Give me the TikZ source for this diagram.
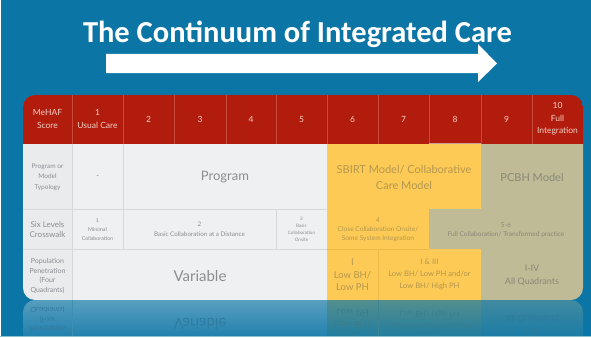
\documentclass[tikz,border=0pt]{standalone}
\usepackage{fontspec}
\setmainfont{Lato}
\newfontfamily\titlefont{Carlito}
\definecolor{bgblue}{HTML}{0B75A6}
\definecolor{hdrred}{HTML}{B21C0C}
\definecolor{hdrline}{HTML}{C9493A}
\definecolor{hdrtxt}{HTML}{F4CFC6}
\definecolor{cellgrey}{HTML}{EFF0F2}
\definecolor{labgrey}{HTML}{E9EBED}
\definecolor{gridgrey}{HTML}{D6D9DB}
\definecolor{greytxt}{HTML}{8B8E91}
\definecolor{ylw}{HTML}{FDCA55}
\definecolor{ylwline}{HTML}{EDBB4A}
\definecolor{ylwtxt}{HTML}{B3974F}
\definecolor{olive}{HTML}{BEBB96}
\definecolor{olivetxt}{HTML}{8A8977}
\newcommand\fs[2]{\fontsize{#1}{#2}\selectfont}
\tikzset{
  txt/.style={inner sep=0pt, align=center, anchor=center},
  hdr/.style={txt, text=hdrtxt, font=\fs{8.5}{12.5}},
  gtxt/.style={txt, text=greytxt},
  ytxt/.style={txt, text=ylwtxt},
  otxt/.style={txt, text=olivetxt},
  grid/.style={draw=gridgrey, line width=0.8pt},
  ygrid/.style={draw=ylwline, line width=0.6pt},
  mg/.style={txt, text=greytxt!28!bgblue},
  my/.style={txt, text=ylwtxt!28!bgblue},
  mo/.style={txt, text=olivetxt!28!bgblue},
}
\begin{document}
\begin{tikzpicture}[x=1pt, y=-1pt]
  \useasboundingbox (0,0) rectangle (591,337);
  \fill[bgblue] (0,0) rectangle (591,337);
  \fill[white] (0,0) rectangle (1,337);
  % title and arrow
  \node[anchor=base, text=white, font=\titlefont\bfseries\fs{30.5}{33}, inner sep=0pt] (title) at (297.5,43) {The Continuum of Integrated Care};
  \fill[white] (106,54) -- (478,54) -- (478,44) -- (497,63.5) -- (478,82) -- (478,73) -- (106,73) -- cycle;
  % table
  \begin{scope}
    \clip[rounded corners=12pt] (23,95) rectangle (583,300);
    \fill[cellgrey] (72,144) rectangle (327,300);
    \fill[labgrey] (23,144) rectangle (72,300);
    \fill[ylw] (327,144) -- (481,144) -- (481,209) -- (429,209) -- (429,249) -- (481,249) -- (481,300) -- (327,300) -- cycle;
    \fill[olive] (481,144) -- (583,144) -- (583,300) -- (481,300) -- (481,249) -- (429,249) -- (429,209) -- (481,209) -- cycle;
    \fill[hdrred] (23,95) rectangle (583,144);
    \foreach \x in {72,123,174,226,276,327,378,429,481,532}
      \draw[hdrline, line width=0.6pt] (\x,95) -- (\x,144);
    \draw[gridgrey!70!hdrred, line width=0.8pt] (429,143.5) -- (481,143.5);
    \draw[grid] (23,209) -- (327,209) (23,249) -- (327,249);
    \draw[grid] (72,144) -- (72,300) (123,144) -- (123,249) (276,209) -- (276,249);
    \draw[ygrid] (327,249) -- (429,249) (378,249) -- (378,300);
    % header
    \node[hdr] (h0) at (47.5,119) {MeHAF\\Score};
    \node[hdr] (h1) at (97.5,119) {1\\Usual Care};
    \node[hdr] (h2) at (148.5,119) {2};
    \node[hdr] (h3) at (200,119) {3};
    \node[hdr] (h4) at (251,119) {4};
    \node[hdr] (h5) at (301.5,119) {5};
    \node[hdr] (h6) at (352.5,119) {6};
    \node[hdr] (h7) at (403.5,119) {7};
    \node[hdr] (h8) at (455,119) {8};
    \node[hdr] (h9) at (506.5,119) {9};
    \node[hdr] (h10) at (557.5,119) {10\\Full\\Integration};
    % row 2
    \node[gtxt, font=\fs{6.5}{10.5}] (l2) at (47.5,177) {Program or\\Model\\Typology};
    \node[gtxt, font=\fs{8}{10}] (dash) at (97.5,177) {-};
    \node[gtxt, font=\fs{13}{15}] (prog) at (225,177.5) {Program};
    \node[ytxt, font=\fs{11}{15.3}] (sbirt) at (404,177.5) {SBIRT Model/ Collaborative\\Care Model};
    \node[otxt, font=\fs{11}{14}] (pcbh) at (532,177.5) {PCBH Model};
    % row 3
    \node[gtxt, font=\fs{8}{10}] (l3) at (47.5,229.3) {Six Levels\\Crosswalk};
    \node[gtxt, font=\fs{5.3}{9}] (c1) at (97.5,229.3) {1\\Minimal\\Collaboration};
    \node[gtxt, font=\fs{6.3}{10}] (c2) at (199.5,229.3) {2\\Basic Collaboration at a Distance};
    \node[gtxt, font=\fs{4.6}{7.3}] (c3) at (301.5,229.3) {3\\Basic\\Collaboration\\Onsite};
    \node[ytxt, font=\fs{6.6}{9}] (c4) at (378,229.3) {4\\Close Collaboration Onsite/\\Some System Integration};
    \node[otxt, font=\fs{6.6}{8.6}] (c56) at (506,230) {5-6\\Full Collaboration/ Transformed practice};
    % row 4
    \node[gtxt, font=\fs{7}{9.5}] (l4) at (47.5,276) {Population\\Penetration\\(Four\\Quadrants)};
    \node[gtxt, font=\fs{15}{17}] (var) at (200,276.5) {Variable};
    \node[ytxt, font=\fs{9.5}{12.5}] (q1) at (352.5,274.8) {I\\Low BH/\\Low PH};
    \node[ytxt, font=\fs{7.6}{12}] (q13) at (429.5,274.8) {I \& III\\Low BH/ Low PH and/or\\Low BH/ High PH};
    \node[otxt, font=\fs{9}{12.7}] (q14) at (532,275.5) {I-IV\\All Quadrants};
  \end{scope}
  % reflection of the last row
  \begin{scope}
    \clip[rounded corners=12pt] (23,300) rectangle (583,420);
    \clip (0,300) rectangle (591,335.5);
    \shade[top color=labgrey!34!bgblue, bottom color=labgrey!10!bgblue] (23,300) rectangle (72,336);
    \shade[top color=cellgrey!34!bgblue, bottom color=cellgrey!10!bgblue] (72,300) rectangle (327,336);
    \shade[top color=ylw!30!bgblue, bottom color=ylw!9!bgblue] (327,300) rectangle (481,336);
    \shade[top color=olive!30!bgblue, bottom color=olive!9!bgblue] (481,300) rectangle (583,336);
    \draw[gridgrey!25!bgblue, line width=0.8pt] (72,300) -- (72,336);
    \draw[ylwline!22!bgblue, line width=0.6pt] (378,300) -- (378,336);
    \begin{scope}[yshift=-600pt, yscale=-1, transform shape]
      \node[mg, font=\fs{7}{9.5}] (ml4) at (47.5,276) {Population\\Penetration\\(Four\\Quadrants)};
      \node[mg, font=\fs{15}{17}] (mvar) at (200,276.5) {Variable};
      \node[my, font=\fs{9.5}{12.5}] (mq1) at (352.5,274.8) {I\\Low BH/\\Low PH};
      \node[my, font=\fs{7.6}{12}] (mq13) at (429.5,274.8) {I \& III\\Low BH/ Low PH and/or\\Low BH/ High PH};
      \node[mo, font=\fs{9}{12.7}] (mq14) at (532,275.5) {I-IV\\All Quadrants};
    \end{scope}
  \end{scope}
  \fill[white!55!bgblue] (0,335.5) rectangle (591,337);
\end{tikzpicture}
\end{document}
